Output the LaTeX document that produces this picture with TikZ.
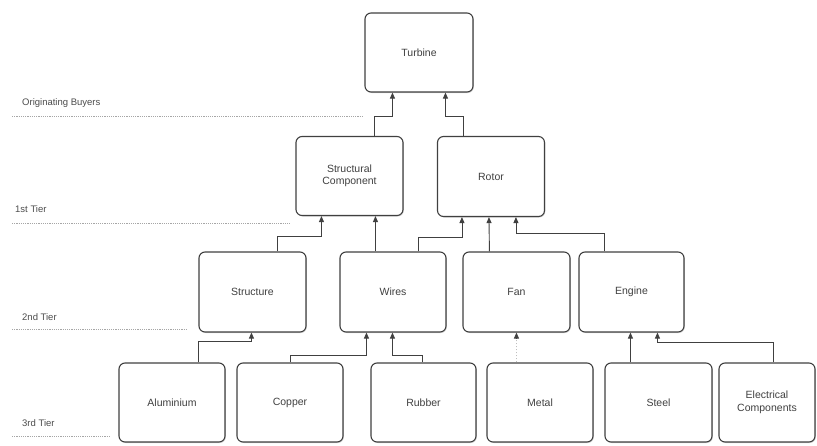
\documentclass[tikz,border=0pt]{standalone}
\usepackage{fontspec}
\setmainfont{Liberation Sans}
\usetikzlibrary{arrows.meta,shadows}
\begin{document}
\begin{tikzpicture}[x=1pt,y=-1pt,
  box/.style={draw=black!75,line width=1.1pt,rounded corners=6pt,fill=white,
    minimum width=107pt,minimum height=79pt,inner sep=2pt,align=center,
    font=\fontsize{10.5}{12.5}\selectfont,text=black!75,
    drop shadow={shadow xshift=0.8pt,shadow yshift=-1pt,opacity=0.35}},
  conn/.style={draw=black!75,line width=0.9pt,-{Triangle[width=5pt,length=6pt]}},
  faint/.style={draw=black!25,line width=0.8pt,dash pattern=on 1.5pt off 1.5pt},
  tierline/.style={draw=black!35,line width=0.9pt,dash pattern=on 1.2pt off 1pt},
  tierlabel/.style={anchor=west,inner sep=0pt,font=\fontsize{9.5}{11}\selectfont,text=black!70}]
\useasboundingbox (0,0) rectangle (817,445);

% tier labels and separator lines
\node[tierlabel] (lob) at (22,103) {Originating Buyers};
\node[tierlabel] (l1) at (15,209) {1st Tier};
\node[tierlabel] (l2) at (22,317) {2nd Tier};
\node[tierlabel] (l3) at (22,423) {3rd Tier};
\coordinate (ob0) at (12,116); \coordinate (ob1) at (363,116);
\coordinate (t10) at (12,223); \coordinate (t11) at (290,223);
\coordinate (t20) at (12,329); \coordinate (t21) at (188,329);
\coordinate (t30) at (12,436); \coordinate (t31) at (110,436);
\draw[tierline] (ob0) -- (ob1);
\draw[tierline] (t10) -- (t11);
\draw[tierline] (t20) -- (t21);
\draw[tierline] (t30) -- (t31);

% boxes
\node[box,minimum width=108pt] (turbine) at (419,52.5) {Turbine};
\node[box] (structural) at (349.5,176) {Structural\\Component};
\node[box,minimum height=80pt] (rotor) at (491,176.5) {Rotor};
\node[box,minimum height=80pt] (structure) at (252.5,292) {Structure};
\node[box,minimum width=106pt,minimum height=80pt] (wires) at (393,292) {Wires};
\node[box,minimum height=80pt] (fan) at (516.5,292) {Fan};
\node[box,minimum width=105pt,minimum height=80pt] (engine) at (631.5,292) {Engine};
\node[box,minimum width=106pt] (aluminium) at (172,402.5) {Aluminium};
\node[box,minimum width=106pt] (copper) at (290,402.5) {Copper};
\node[box,minimum width=105pt] (rubber) at (423.5,402.5) {Rubber};
\node[box,minimum width=106pt] (metal) at (540,402.5) {Metal};
\node[box] (steel) at (658.5,402.5) {Steel};
\node[box,minimum width=96pt] (electrical) at (767,402.5) {Electrical\\Components};

% connectors: 1st tier -> turbine
\draw[conn] ([xshift=79pt]structural.north west) -- ++(0,-20) -| ([xshift=28pt]turbine.south west);
\draw[conn] ([xshift=26pt]rotor.north west) -- ++(0,-20) -| ([xshift=81pt]turbine.south west);

% 2nd tier -> 1st tier
\draw[conn] ([xshift=79pt]structure.north west) -- ++(0,-15) -| ([xshift=26pt]structural.south west);
\draw[conn] ([xshift=36pt]wires.north west) -- ([xshift=80pt]structural.south west);
\draw[conn] ([xshift=79pt]wires.north west) -- ++(0,-14) -| ([xshift=25pt]rotor.south west);
\draw[conn] ([xshift=27pt]fan.north west) -- ([xshift=52pt]rotor.south west);
\draw[conn] ([xshift=26pt]engine.north west) -- ++(0,-18) -| ([xshift=79pt]rotor.south west);

% 3rd tier -> 2nd tier
\draw[conn] ([xshift=80pt]aluminium.north west) -- ++(0,-21) -| ([xshift=53pt]structure.south west);
\draw[conn] ([xshift=54pt]copper.north west) -- ++(0,-7) -| ([xshift=27pt]wires.south west);
\draw[conn] ([xshift=52pt]rubber.north west) -- ++(0,-7) -| ([xshift=53pt]wires.south west);
\draw[faint] ([xshift=30pt]metal.north west) -- ([xshift=54pt,yshift=-5pt]fan.south west);
\draw[conn] ([xshift=54pt,yshift=-6pt]fan.south west) -- ([xshift=54pt]fan.south west);
\draw[conn] ([xshift=26pt]steel.north west) -- ([xshift=52pt]engine.south west);
\draw[conn] ([xshift=55pt]electrical.north west) -- ++(0,-20) -| ([xshift=79pt]engine.south west);
\end{tikzpicture}
\end{document}
